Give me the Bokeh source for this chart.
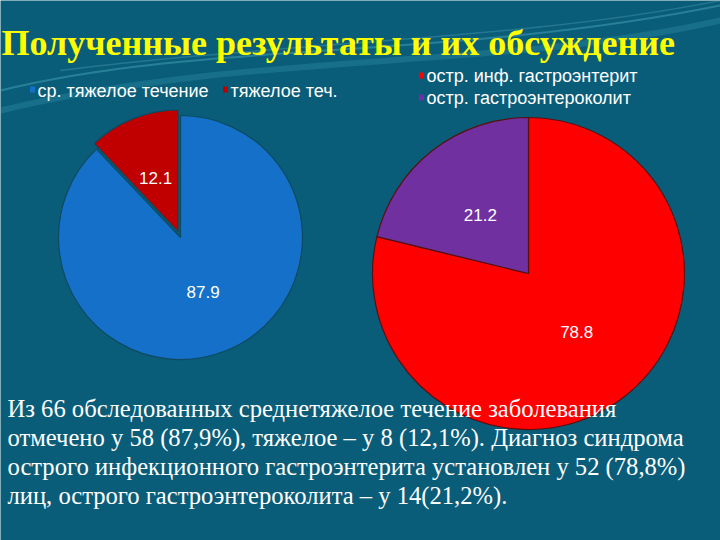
import math
from bokeh.plotting import figure
from bokeh.models import Range1d
from bokeh.core.properties import value
from bokeh.embed import file_html
from bokeh.resources import INLINE

# ---- data ----
title_text = "Полученные результаты и их обсуждение"
left_cats = ["ср. тяжелое течение", "тяжелое теч."]
left_vals = [87.9, 12.1]
left_colors = ["#1470c8", "#c00000"]
right_cats = ["остр. инф. гастроэнтерит", "остр. гастроэнтероколит"]
right_vals = [78.8, 21.2]
right_colors = ["#ff0000", "#7030a0"]
body_lines = [
    "Из 66 обследованных среднетяжелое течение заболевания",
    "отмечено у 58 (87,9%), тяжелое – у 8 (12,1%). Диагноз синдрома",
    "острого инфекционного гастроэнтерита установлен у 52 (78,8%)",
    "лиц, острого гастроэнтероколита – у 14(21,2%).",
]

W, H = 720, 540
BG = "#0a5d79"

p = figure(width=W, height=H, output_backend="svg", toolbar_location=None,
           x_range=Range1d(0, W), y_range=Range1d(0, H), min_border=0)
p.axis.visible = False
p.grid.visible = False
p.outline_line_color = None
p.background_fill_color = BG
p.border_fill_color = BG


def Y(y):
    return H - y


# decorative background waves near the top
p.bezier(x0=[0], y0=[Y(90)], x1=[720], y1=[Y(5)], cx0=[200], cy0=[Y(40)],
         cx1=[450], cy1=[Y(60)], line_color="#6fd0e0", line_alpha=0.3, line_width=2)
p.bezier(x0=[0], y0=[Y(110)], x1=[720], y1=[Y(20)], cx0=[250], cy0=[Y(50)],
         cx1=[500], cy1=[Y(70)], line_color="#4fb8cc", line_alpha=0.2, line_width=6)
p.bezier(x0=[60], y0=[Y(70)], x1=[720], y1=[Y(0)], cx0=[300], cy0=[Y(40)],
         cx1=[520], cy1=[Y(40)], line_color="#8fe0ec", line_alpha=0.2, line_width=1.5)


def draw_pie(cx, cy, r, vals, colors, explode, outline):
    total = sum(vals)
    start = math.pi / 2  # 12 o'clock, go clockwise
    for i, v in enumerate(vals):
        sweep = 2 * math.pi * v / total
        end = start - sweep
        mid = (start + end) / 2
        off = explode[i]
        ox = cx + off * math.cos(mid)
        oy = Y(cy) + off * math.sin(mid)
        p.wedge(x=[ox], y=[oy], radius=r, start_angle=end, end_angle=start,
                fill_color=colors[i], line_color=outline, line_width=1.2)
        lx = ox + 0.5 * r * math.cos(mid)
        ly = oy + 0.48 * r * math.sin(mid)
        p.text(x=[lx], y=[ly], text=[f"{v:.1f}"], text_color="#ffffff",
               text_font=value("Liberation Sans"), text_font_size="17px",
               text_align="center", text_baseline="middle")
        start = end


draw_pie(180, 237, 122, left_vals, left_colors, [0, 6], "#0d4a60")
draw_pie(528, 273, 156, right_vals, right_colors, [0, 0], "#5a1010")

# title
p.text(x=[1], y=[Y(42)], text=[title_text], text_color="#ffff00",
       text_font=value("Liberation Serif"), text_font_style="bold",
       text_font_size="36px", text_align="left", text_baseline="alphabetic")

# left legend (horizontal)
lx_marks = [32, 225]
for i, c in enumerate(left_cats):
    p.rect(x=[lx_marks[i]], y=[Y(89)], width=5, height=6,
           fill_color=left_colors[i], line_color=None)
    p.text(x=[lx_marks[i] + 5], y=[Y(90)], text=[c], text_color="#ffffff",
           text_font=value("Liberation Sans"), text_font_size="18px",
           text_align="left", text_baseline="middle")

# right legend (vertical)
for i, c in enumerate(right_cats):
    yy = Y(75 + 22 * i)
    p.rect(x=[421], y=[yy], width=5, height=6,
           fill_color=right_colors[i], line_color=None)
    p.text(x=[426], y=[yy], text=[c], text_color="#ffffff",
           text_font=value("Liberation Sans"), text_font_size="18px",
           text_align="left", text_baseline="middle")

# body text
for i, line in enumerate(body_lines):
    p.text(x=[7], y=[Y(408 + 29 * i)], text=[line], text_color="#ffffff",
           text_font=value("Liberation Serif"), text_font_size="24.6px",
           text_align="left", text_baseline="middle")

open("out.html", "w").write(file_html(p, INLINE))
